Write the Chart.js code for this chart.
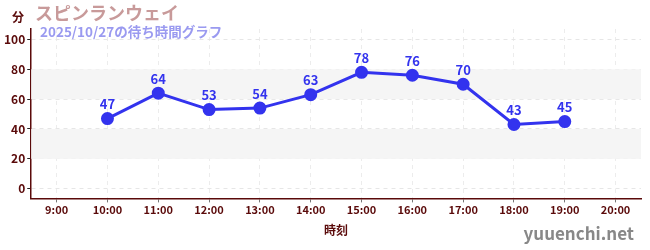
<!DOCTYPE html>
<html>
<head>
<meta charset="utf-8">
<script src="https://cdn.jsdelivr.net/npm/chart.js@4"></script>
<style>
  html, body { margin: 0; padding: 0; background: #fff; }
  #wrap { width: 650px; height: 250px; }
</style>
</head>
<body>
<div id="wrap"><canvas id="waitChart" width="650" height="250"></canvas></div>
<script>
// ------------------ Data ------------------
const hours = ["9:00", "10:00", "11:00", "12:00", "13:00", "14:00", "15:00", "16:00", "17:00", "18:00", "19:00", "20:00"];
const waitMinutes = [null, 47, 64, 53, 54, 63, 78, 76, 70, 43, 45, null];
const bandRanges = [[20, 40], [60, 80]];

const titleText = "スピンランウェイ";
const subtitleText = "2025/10/27の待ち時間グラフ";
const yUnitText = "分";
const xTitleText = "時刻";
const siteText = "yuuenchi.net";

const FONT = "'Noto Sans CJK JP', 'Noto Sans', sans-serif";
const MAROON = "#5a0a0a";
const BLUE = "#3333ee";

// light gray bands behind the plot
const bandPlugin = {
    id: "bands",
    beforeDatasetsDraw(chart) {
        const { ctx, chartArea, scales } = chart;
        ctx.save();
        ctx.fillStyle = "#f5f5f5";
        bandRanges.forEach(([lo, hi]) => {
            const yTop = scales.y.getPixelForValue(hi);
            const yBot = scales.y.getPixelForValue(lo);
            ctx.fillRect(chartArea.left, yTop, chartArea.right - chartArea.left, yBot - yTop);
        });
        ctx.restore();
    }
};

// value labels above points + titles and watermark
const textPlugin = {
    id: "texts",
    afterDatasetsDraw(chart) {
        const { ctx } = chart;
        const meta = chart.getDatasetMeta(0);
        ctx.save();
        ctx.font = "bold 13px " + FONT;
        ctx.fillStyle = BLUE;
        ctx.textAlign = "center";
        ctx.textBaseline = "bottom";
        meta.data.forEach((pt, i) => {
            if (waitMinutes[i] == null) return;
            ctx.fillText(String(waitMinutes[i]), pt.x, pt.y - 8);
        });
        ctx.restore();
    },
    afterDraw(chart) {
        const { ctx } = chart;
        ctx.save();
        ctx.textBaseline = "middle";
        ctx.textAlign = "left";
        ctx.font = "bold 12px " + FONT;
        ctx.fillStyle = MAROON;
        ctx.fillText(yUnitText, 12, 17);
        ctx.font = "bold 18px " + FONT;
        ctx.fillStyle = "#c89a9a";
        ctx.fillText(titleText, 35, 13);
        ctx.font = "bold 13.5px " + FONT;
        ctx.fillStyle = "#9a9af0";
        ctx.fillText(subtitleText, 40, 32);
        ctx.font = "bold 17px " + FONT;
        ctx.fillStyle = "#888";
        ctx.textAlign = "right";
        ctx.fillText(siteText, 634, 234);
        ctx.restore();
    }
};

function renderWaitChart() {
    new Chart(document.getElementById("waitChart"), {
        type: "line",
        data: {
            labels: hours,
            datasets: [{
                label: "待ち時間",
                data: waitMinutes,
                borderColor: BLUE,
                backgroundColor: BLUE,
                borderWidth: 3,
                pointRadius: 5,
                pointHoverRadius: 5,
                tension: 0,
                fill: false
            }]
        },
        options: {
            responsive: false,
            animation: false,
            layout: { padding: { top: 29, right: 9, left: 2, bottom: 12 } },
            plugins: {
                legend: { display: false },
                tooltip: { enabled: false }
            },
            scales: {
                x: {
                    offset: true,
                    grid: {
                        offset: false,
                        color: "#ececec",
                        tickColor: "#777",
                        tickLength: 4
                    },
                    border: { color: MAROON, width: 1.5, dash: [4, 4] },
                    ticks: {
                        color: MAROON,
                        font: { family: FONT, size: 11, weight: "bold" },
                        padding: 1,
                        maxRotation: 0
                    },
                    title: {
                        display: true,
                        text: xTitleText,
                        color: MAROON,
                        font: { family: FONT, size: 12, weight: "bold" },
                        padding: { top: 6, bottom: 0 }
                    }
                },
                y: {
                    min: -6.5,
                    max: 107,
                    afterBuildTicks(scale) {
                        scale.ticks = [0, 10, 20, 30, 40, 50, 60, 70, 80, 90, 100].map(v => ({ value: v }));
                    },
                    grid: {
                        color: ctx => (ctx.tick && ctx.tick.value % 20 === 0 ? "#e6e6e6" : "rgba(0,0,0,0)"),
                        tickColor: ctx => (ctx.tick && ctx.tick.value % 20 === 0 ? "#222" : "#e02020"),
                        tickLength: 4
                    },
                    border: { color: MAROON, width: 1.5, dash: [4, 4] },
                    ticks: {
                        color: MAROON,
                        font: { family: FONT, size: 12, weight: "bold" },
                        padding: 2,
                        callback: v => (v % 20 === 0 ? String(v) : "")
                    }
                }
            }
        },
        plugins: [bandPlugin, textPlugin]
    });
}

document.addEventListener("DOMContentLoaded", () => {
    renderWaitChart();
});
</script>
</body>
</html>
